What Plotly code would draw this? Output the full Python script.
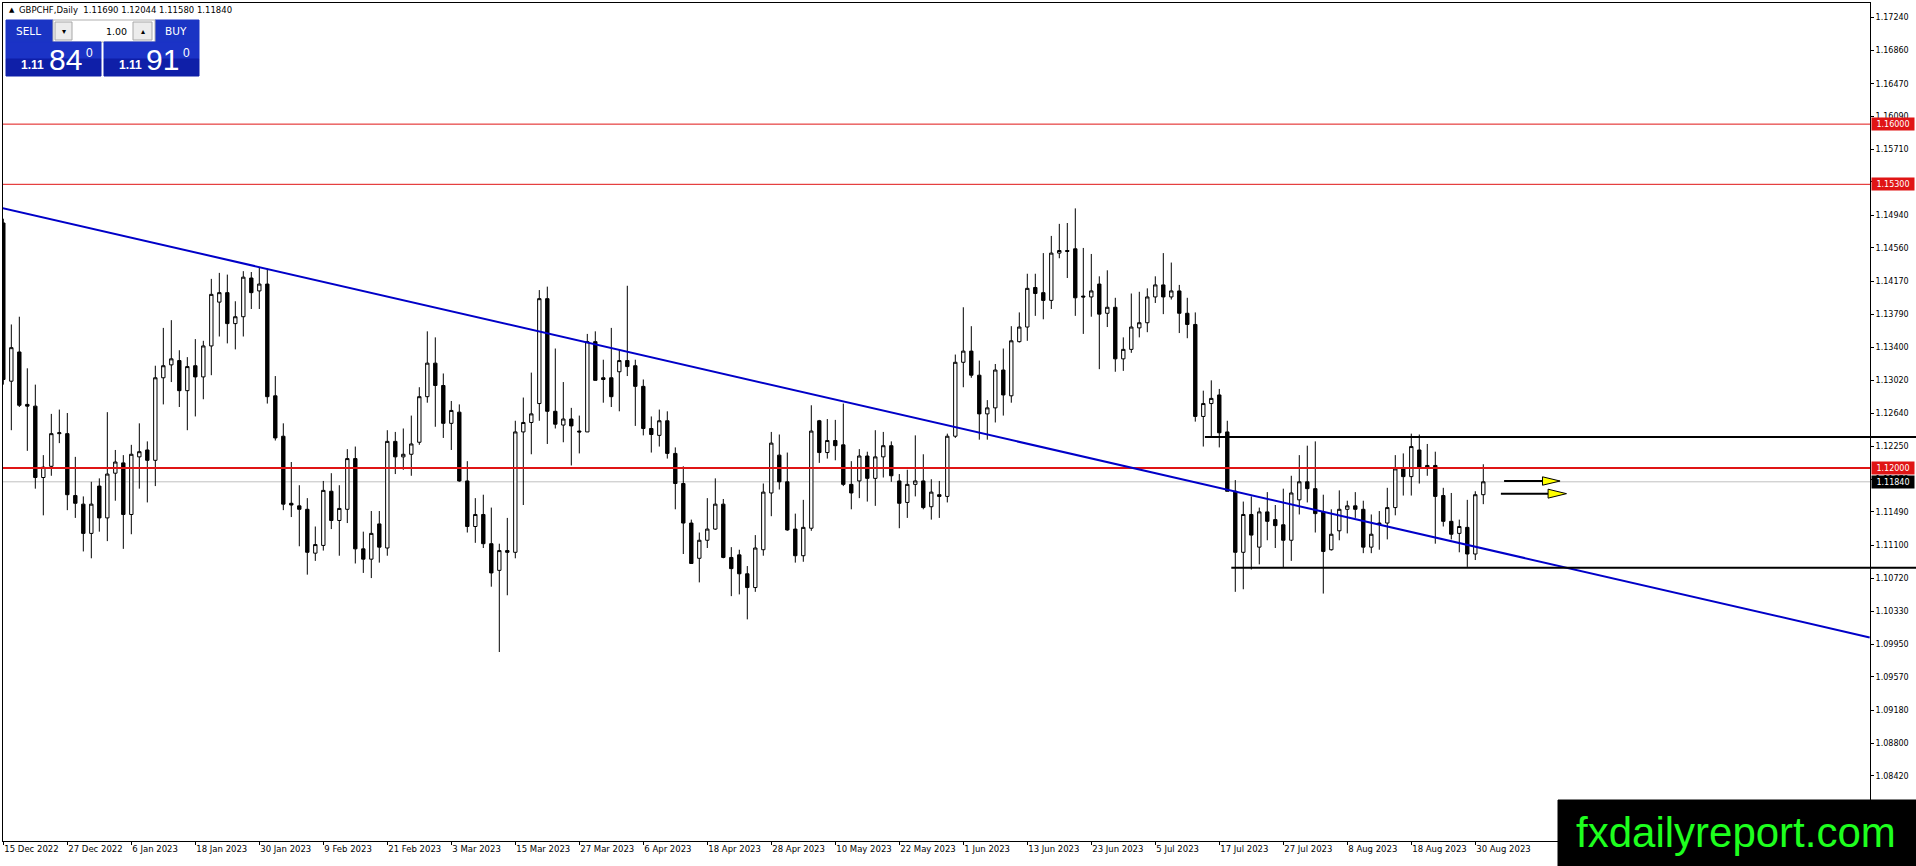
import plotly.graph_objects as go

# DATA (GBPCHF daily, 15 Dec 2022 .. 31 Aug 2023, one bar per trading day)
OPEN = [
    1.1485, 1.1301, 1.1335, 1.1274, 1.1272, 1.1189, 1.1202, 1.1240, 1.1240, 1.1168,
    1.1158, 1.1124, 1.1179, 1.1142, 1.1194, 1.1206, 1.1146, 1.1213, 1.1221, 1.1209,
    1.1305, 1.1320, 1.1325, 1.1290, 1.1319, 1.1306, 1.1342, 1.1393, 1.1404, 1.1368,
    1.1376, 1.1421, 1.1406, 1.1414, 1.1284, 1.1237, 1.1159, 1.1156, 1.1152, 1.1101,
    1.1110, 1.1173, 1.1139, 1.1152, 1.1211, 1.1106, 1.1094, 1.1135, 1.1107, 1.1231,
    1.1213, 1.1216, 1.1230, 1.1283, 1.1322, 1.1296, 1.1252, 1.1265, 1.1185, 1.1132,
    1.1146, 1.1112, 1.1081, 1.1104, 1.1102, 1.1242, 1.1253, 1.1275, 1.1397, 1.1266,
    1.1250, 1.1257, 1.1243, 1.1242, 1.1347, 1.1305, 1.1305, 1.1312, 1.1325, 1.1319,
    1.1295, 1.1246, 1.1238, 1.1255, 1.1217, 1.1182, 1.1136, 1.1095, 1.1116, 1.1129,
    1.1158, 1.1096, 1.1099, 1.1077, 1.1061, 1.1105, 1.1171, 1.1215, 1.1184, 1.1129,
    1.1098, 1.1130, 1.1255, 1.1218, 1.1232, 1.1227, 1.1181, 1.1185, 1.1214, 1.1188,
    1.1213, 1.1226, 1.1185, 1.1160, 1.1181, 1.1185, 1.1155, 1.1169, 1.1167, 1.1237,
    1.1323, 1.1336, 1.1308, 1.1263, 1.1270, 1.1314, 1.1284, 1.1347, 1.1364, 1.1410,
    1.1404, 1.1395, 1.1450, 1.1453, 1.1455, 1.1400, 1.1399, 1.1414, 1.1380, 1.1387,
    1.1327, 1.1338, 1.1363, 1.1369, 1.1399, 1.1413, 1.1399, 1.1406, 1.1380, 1.1367,
    1.1260, 1.1275, 1.1285, 1.1242, 1.1173, 1.1102, 1.1146, 1.1108, 1.1149, 1.1140,
    1.1134, 1.1116, 1.1163, 1.1184, 1.1176, 1.1149, 1.1105, 1.1127, 1.1152, 1.1156,
    1.1152, 1.1108, 1.1136, 1.1136, 1.1154, 1.1199, 1.1190, 1.1221, 1.1200, 1.1203,
    1.1168, 1.1138, 1.1124, 1.1131, 1.1100, 1.1169,
]
HIGH = [
    1.1490, 1.1367, 1.1376, 1.1316, 1.1297, 1.1215, 1.1263, 1.1268, 1.1264, 1.1213,
    1.1167, 1.1184, 1.1188, 1.1265, 1.1221, 1.1215, 1.1227, 1.1252, 1.1231, 1.1319,
    1.1363, 1.1372, 1.1337, 1.1329, 1.1350, 1.1348, 1.1420, 1.1427, 1.1425, 1.1394,
    1.1429, 1.1428, 1.1434, 1.1432, 1.1307, 1.1252, 1.1207, 1.1180, 1.1165, 1.1132,
    1.1185, 1.1194, 1.1180, 1.1222, 1.1225, 1.1126, 1.1150, 1.1150, 1.1244, 1.1242,
    1.1246, 1.1261, 1.1294, 1.1359, 1.1352, 1.1310, 1.1278, 1.1274, 1.1208, 1.1165,
    1.1169, 1.1154, 1.1112, 1.1142, 1.1255, 1.1282, 1.1311, 1.1407, 1.1411, 1.1339,
    1.1300, 1.1270, 1.1261, 1.1356, 1.1359, 1.1326, 1.1363, 1.1338, 1.1412, 1.1326,
    1.1303, 1.1260, 1.1268, 1.1266, 1.1224, 1.1202, 1.1140, 1.1125, 1.1165, 1.1188,
    1.1164, 1.1108, 1.1105, 1.1086, 1.1122, 1.1182, 1.1242, 1.1239, 1.1218, 1.1147,
    1.1163, 1.1273, 1.1256, 1.1257, 1.1256, 1.1275, 1.1208, 1.1222, 1.1219, 1.1244,
    1.1242, 1.1231, 1.1193, 1.1198, 1.1238, 1.1216, 1.1187, 1.1185, 1.1240, 1.1332,
    1.1387, 1.1365, 1.1325, 1.1279, 1.1321, 1.1339, 1.1365, 1.1381, 1.1426, 1.1426,
    1.1450, 1.1470, 1.1484, 1.1485, 1.1502, 1.1456, 1.1449, 1.1423, 1.1430, 1.1398,
    1.1352, 1.1403, 1.1405, 1.1409, 1.1423, 1.1450, 1.1439, 1.1413, 1.1398, 1.1381,
    1.1290, 1.1302, 1.1292, 1.1255, 1.1186, 1.1161, 1.1167, 1.1154, 1.1172, 1.1157,
    1.1176, 1.1191, 1.1215, 1.1226, 1.1231, 1.1169, 1.1152, 1.1174, 1.1162, 1.1172,
    1.1162, 1.1146, 1.1150, 1.1177, 1.1215, 1.1217, 1.1240, 1.1239, 1.1228, 1.1219,
    1.1177, 1.1171, 1.1140, 1.1163, 1.1173, 1.12044,
]
LOW = [
    1.1297, 1.1244, 1.1271, 1.1220, 1.1176, 1.1145, 1.1191, 1.1229, 1.1151, 1.1142,
    1.1103, 1.1095, 1.1126, 1.1115, 1.1162, 1.1106, 1.1123, 1.1176, 1.1160, 1.1179,
    1.1274, 1.1300, 1.1271, 1.1244, 1.1260, 1.1280, 1.1308, 1.1353, 1.1345, 1.1338,
    1.1353, 1.1385, 1.1385, 1.1275, 1.1232, 1.1151, 1.1143, 1.1109, 1.1076, 1.1092,
    1.1104, 1.1129, 1.1098, 1.1136, 1.1089, 1.1078, 1.1072, 1.1090, 1.1098, 1.1193,
    1.1198, 1.1191, 1.1227, 1.1276, 1.1248, 1.1235, 1.1221, 1.1184, 1.1125, 1.1113,
    1.1107, 1.1062, 1.0986, 1.1052, 1.1095, 1.1157, 1.1216, 1.1255, 1.1228, 1.1246,
    1.1230, 1.1203, 1.1217, 1.1242, 1.1302, 1.1276, 1.1271, 1.1266, 1.1307, 1.1249,
    1.1238, 1.1218, 1.1225, 1.1211, 1.1152, 1.1100, 1.1089, 1.1067, 1.1107, 1.1128,
    1.1095, 1.1051, 1.1053, 1.1024, 1.1056, 1.1098, 1.1144, 1.1175, 1.1127, 1.1090,
    1.1091, 1.1127, 1.1206, 1.1211, 1.1209, 1.1179, 1.1152, 1.1165, 1.1161, 1.1156,
    1.1189, 1.1184, 1.1130, 1.1142, 1.1167, 1.1152, 1.1140, 1.1142, 1.1160, 1.1235,
    1.1294, 1.1305, 1.1233, 1.1233, 1.1253, 1.1261, 1.1276, 1.1346, 1.1348, 1.1377,
    1.1373, 1.1385, 1.1444, 1.1421, 1.1377, 1.1356, 1.1376, 1.1315, 1.1364, 1.1312,
    1.1313, 1.1334, 1.1352, 1.1358, 1.1392, 1.1379, 1.1396, 1.1357, 1.1351, 1.1254,
    1.1225, 1.1236, 1.1224, 1.1173, 1.1056, 1.1059, 1.1082, 1.1088, 1.1116, 1.1107,
    1.1084, 1.1092, 1.1146, 1.1160, 1.1125, 1.1054, 1.1104, 1.1116, 1.1124, 1.1142,
    1.1101, 1.1101, 1.1105, 1.1117, 1.1145, 1.1168, 1.1168, 1.1182, 1.1191, 1.1112,
    1.1132, 1.1117, 1.1102, 1.1085, 1.1093, 1.1158,
]
CLOSE = [
    1.1303, 1.1340, 1.1273, 1.1272, 1.1189, 1.1201, 1.1240, 1.1241, 1.1169, 1.1159,
    1.1124, 1.1158, 1.1142, 1.1193, 1.1207, 1.1146, 1.1216, 1.1219, 1.1209, 1.1305,
    1.1319, 1.1327, 1.1290, 1.1318, 1.1306, 1.1342, 1.1402, 1.1404, 1.1368, 1.1376,
    1.1422, 1.1404, 1.1414, 1.1283, 1.1235, 1.1158, 1.1157, 1.1152, 1.1102, 1.1111,
    1.1174, 1.1139, 1.1153, 1.1211, 1.1106, 1.1094, 1.1124, 1.1108, 1.1231, 1.1213,
    1.1216, 1.1228, 1.1283, 1.1322, 1.1296, 1.1252, 1.1267, 1.1185, 1.1132, 1.1146,
    1.1112, 1.1078, 1.1104, 1.1102, 1.1242, 1.1253, 1.1263, 1.1397, 1.1266, 1.1251,
    1.1257, 1.1249, 1.1242, 1.1347, 1.1302, 1.1303, 1.1283, 1.1325, 1.1318, 1.1295,
    1.1246, 1.1239, 1.1255, 1.1217, 1.1182, 1.1136, 1.1089, 1.1116, 1.1129, 1.1158,
    1.1096, 1.1083, 1.1077, 1.1061, 1.1107, 1.1172, 1.1229, 1.1184, 1.1128, 1.1098,
    1.1131, 1.1243, 1.1218, 1.1232, 1.1226, 1.1181, 1.1171, 1.1214, 1.1188, 1.1213,
    1.1226, 1.1191, 1.1159, 1.1181, 1.1185, 1.1154, 1.1172, 1.1167, 1.1237, 1.1323,
    1.1336, 1.1308, 1.1263, 1.1270, 1.1314, 1.1285, 1.1348, 1.1364, 1.1409, 1.1403,
    1.1395, 1.1450, 1.1453, 1.1452, 1.1398, 1.1399, 1.1406, 1.1379, 1.1387, 1.1327,
    1.1338, 1.1364, 1.1369, 1.1399, 1.1413, 1.1399, 1.1406, 1.1380, 1.1367, 1.1260,
    1.1275, 1.1281, 1.1241, 1.1173, 1.1102, 1.1146, 1.1122, 1.1149, 1.1138, 1.1133,
    1.1116, 1.1171, 1.1184, 1.1176, 1.1147, 1.1103, 1.1123, 1.1152, 1.1156, 1.1152,
    1.1108, 1.1123, 1.1135, 1.1154, 1.1199, 1.1190, 1.1225, 1.1200, 1.1203, 1.1167,
    1.1138, 1.1123, 1.1132, 1.1100, 1.1169, 1.1184,
]

# x-axis labels, one every 8 bars starting at bar 0
DATE_LABELS = [
    "15 Dec 2022", "27 Dec 2022", "6 Jan 2023", "18 Jan 2023", "30 Jan 2023",
    "9 Feb 2023", "21 Feb 2023", "3 Mar 2023", "15 Mar 2023", "27 Mar 2023",
    "6 Apr 2023", "18 Apr 2023", "28 Apr 2023", "10 May 2023", "22 May 2023",
    "1 Jun 2023", "13 Jun 2023", "23 Jun 2023", "5 Jul 2023", "17 Jul 2023",
    "27 Jul 2023", "8 Aug 2023", "18 Aug 2023", "30 Aug 2023",
]
LABEL_STEP = 8

# price scale labels
PRICE_TICKS = [
    1.17240, 1.16860, 1.16470, 1.16090, 1.15710, 1.15330, 1.14940, 1.14560,
    1.14170, 1.13790, 1.13400, 1.13020, 1.12640, 1.12250, 1.11870, 1.11490,
    1.11100, 1.10720, 1.10330, 1.09950, 1.09570, 1.09180, 1.08800, 1.08420,
]

# drawn objects
RED_LEVELS = [1.16000, 1.15300, 1.12000]
BID = 1.11840
TREND = [(-0.4, 1.1503), (233.3, 1.1003)]          # (bar, price) end points
RANGE_LINES = [(150.2, 1.1236), (153.5, 1.1084)]    # (start bar, price)
ARROWS = [  # shaft start, head base, tip, price, half head height
    (187.6, 192.4, 194.6, 1.11849, 0.00049),
    (187.2, 193.1, 195.4, 1.11702, 0.00052),
]

# LAYOUT GEOMETRY (px)
W, H = 1916, 866
ML, MR, MT, MB = 3, 46, 3, 25
PW, PH = W - ML - MR, H - MT - MB
XMIN, XMAX = -0.04, 233.34
YMIN, YMAX = 1.07662, 1.17409

BLUE_BTN = "#1a34c4"
RED = "#e01515"
FONT = "DejaVu Sans"


def px(x):
    return (x - ML) / PW


def py(y):
    return 1 - (y - MT) / PH


def bar_paper(b):
    return (b - XMIN) / (XMAX - XMIN)


n = len(OPEN)
fig = go.Figure(
    go.Candlestick(
        x=list(range(n)),
        open=OPEN, high=HIGH, low=LOW, close=CLOSE,
        increasing=dict(line=dict(color="black", width=1), fillcolor="white"),
        decreasing=dict(line=dict(color="black", width=1), fillcolor="black"),
        whiskerwidth=0,
        hoverinfo="skip",
        showlegend=False,
    )
)

shapes = []
# red levels and bid line
for lvl in RED_LEVELS:
    shapes.append(dict(type="line", xref="paper", yref="y", x0=0, x1=1, y0=lvl, y1=lvl,
                       line=dict(color=RED, width=2 if lvl == 1.12 else 1)))
shapes.append(dict(type="line", xref="paper", yref="y", x0=0, x1=1, y0=BID, y1=BID,
                   line=dict(color="#c0c0c0", width=1), layer="below"))

# blue trendline
shapes.append(dict(type="line", xref="x", yref="y",
                   x0=TREND[0][0], y0=TREND[0][1], x1=TREND[1][0], y1=TREND[1][1],
                   line=dict(color="#0000c8", width=2)))

# black range lines (run through the price scale to the window edge)
for b0, lvl in RANGE_LINES:
    shapes.append(dict(type="line", xref="paper", yref="y", x0=bar_paper(b0), x1=px(W + 2),
                       y0=lvl, y1=lvl, line=dict(color="black", width=2)))

# yellow arrows
for s0, hb, tip, lvl, hh in ARROWS:
    shapes.append(dict(type="line", xref="x", yref="y", x0=s0, x1=hb, y0=lvl, y1=lvl,
                       line=dict(color="black", width=2)))
    shapes.append(dict(type="path", xref="x", yref="y",
                       path=f"M {hb},{lvl + hh} L {tip},{lvl} L {hb},{lvl - hh} Z",
                       fillcolor="#ffff00", line=dict(color="black", width=1)))

# one-click trading panel
def rect(x0, y0, x1, y1, fill, line=None):
    shapes.append(dict(type="rect", xref="paper", yref="paper",
                       x0=px(x0), x1=px(x1), y0=py(y1), y1=py(y0),
                       fillcolor=fill, line=dict(color=line or fill, width=1)))


rect(6, 20, 53, 42, BLUE_BTN)
rect(155, 20, 199, 42, BLUE_BTN)
rect(53, 20, 155, 42, "white", "#b0b0b0")
rect(55, 22, 72, 40, "#ececec", "#a8a8a8")
rect(133, 22, 152, 40, "#ececec", "#a8a8a8")
rect(6, 42, 101, 59, "#1b33c6")
rect(6, 59, 101, 76, "#0f1fa8")
rect(104, 42, 199, 59, "#1b33c6")
rect(104, 59, 199, 76, "#0f1fa8")

# watermark box
rect(1558, 800, W + 2, H + 2, "black")

annotations = []


def text(x, y, s, size, color="black", family=FONT, anchor="center", bold=False):
    annotations.append(dict(xref="paper", yref="paper", x=px(x), y=py(y), text=f"<b>{s}</b>" if bold else s,
                            showarrow=False, xanchor=anchor, yanchor="middle",
                            font=dict(size=size, color=color, family=family)))


text(7, 10, "▲", 7, anchor="left")
text(17, 10, "GBPCHF,Daily  1.11690 1.12044 1.11580 1.11840", 8.5, anchor="left")
text(28, 31, "SELL", 10.5, "white")
text(176, 31, "BUY", 10.5, "white")
text(63.5, 31, "▾", 8)
text(142.5, 31, "▴", 8)
text(129, 31, "1.00", 9.5, anchor="right")
for x_small, x_big, x_sup, big in [(32, 65.5, 89, "84"), (130.5, 162.5, 186, "91")]:
    text(x_small, 64.5, "1.11", 12, "white", "Liberation Sans", bold=True)
    text(x_big, 59.5, big, 30, "white", "Liberation Sans")
    text(x_sup, 53, "0", 12, "white", "Liberation Sans")

# price scale labels for levels
for lvl, bg in [(1.16000, RED), (1.15300, RED), (1.12000, RED), (BID, "black")]:
    annotations.append(dict(xref="paper", yref="y", x=1, y=lvl, xanchor="left", yanchor="middle",
                            xshift=1, text=f"{lvl:.5f}", showarrow=False, width=42, height=12,
                            bgcolor=bg, borderpad=0,
                            font=dict(size=8, color="white", family=FONT)))

annotations.append(dict(xref="paper", yref="paper", x=px(1736), y=py(832),
                        text="fxdailyreport.com", showarrow=False,
                        xanchor="center", yanchor="middle",
                        font=dict(size=42, color="#1eff1e", family="Liberation Sans")))

fig.update_layout(
    width=W, height=H,
    margin=dict(l=ML, r=MR, t=MT, b=MB, pad=0, autoexpand=False),
    paper_bgcolor="white", plot_bgcolor="white",
    font=dict(family=FONT, color="black", size=8),
    boxgap=0.4,
    shapes=shapes,
    annotations=annotations,
    showlegend=False,
    xaxis=dict(
        range=[XMIN, XMAX], rangeslider=dict(visible=False),
        tickvals=list(range(0, LABEL_STEP * len(DATE_LABELS), LABEL_STEP)),
        ticktext=DATE_LABELS, ticks="outside", ticklen=3, tickcolor="black",
        ticklabelposition="outside right", tickangle=0, tickfont=dict(size=8.5),
        showgrid=False, zeroline=False, showline=True, linecolor="black",
        linewidth=1, mirror=True, fixedrange=True,
    ),
    yaxis=dict(
        range=[YMIN, YMAX], side="right",
        tickvals=PRICE_TICKS, tickformat=".5f", ticks="outside", ticklen=3,
        tickcolor="black", tickfont=dict(size=8),
        showgrid=False, zeroline=False, showline=True, linecolor="black",
        linewidth=1, mirror=True, fixedrange=True,
    ),
)

fig.write_html("out.html", config={"displayModeBar": False},
               post_script="document.body.style.margin='0';document.body.style.overflow='hidden';")
